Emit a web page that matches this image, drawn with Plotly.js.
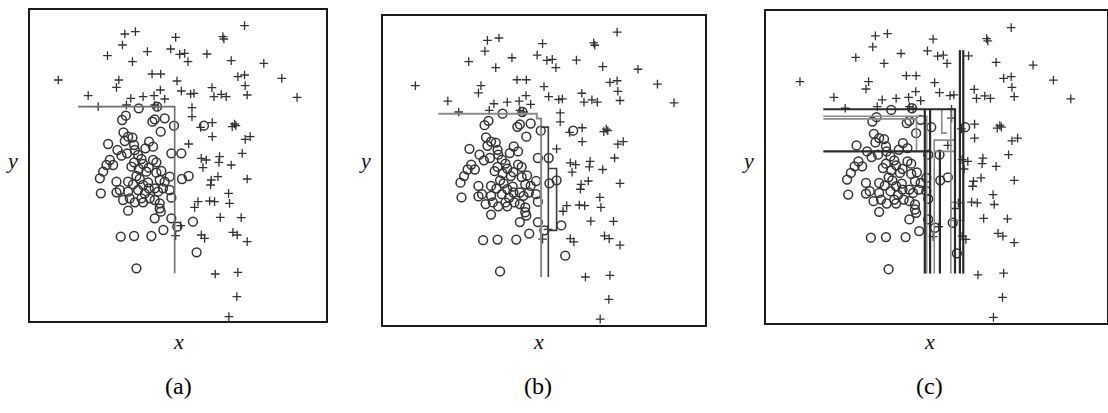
<!DOCTYPE html>
<html>
<head>
<meta charset="utf-8">
<script src="https://cdn.plot.ly/plotly-3.0.1.min.js"></script>
<style>
  html, body { margin: 0; padding: 0; background: #fff; }
  #chart { width: 1108px; height: 413px; }
</style>
</head>
<body>
<div id="chart"></div>
<script>
// Class "+" samples (x, y)
const crossX = [65.0, 29.0, 32.2, 44.3, 58.5, 58.8, 28.3, 23.8, 35.8, 42.8, 45.5, 47.0, 48.0, 53.7, 31.3,
  61.0, 70.8, 37.2, 39.8, 9.0, 27.2, 26.5, 44.7, 63.0, 65.0, 65.2, 65.8, 76.2, 80.8, 18.0,
  21.0, 30.8, 34.5, 37.8, 39.7, 41.0, 46.0, 48.8, 49.8, 55.2, 55.8, 58.0, 59.5, 29.5, 38.0,
  39.0, 49.2, 49.2, 55.3, 51.8, 61.3, 62.0, 62.4, 55.3, 65.2, 66.7, 48.2, 64.3, 52.0, 53.5,
  57.5, 57.3, 52.5, 61.0, 55.0, 57.0, 54.8, 65.8, 60.2, 51.0, 50.0, 54.5, 56.0, 60.5, 57.7,
  64.0, 45.8, 44.3, 52.0, 53.0, 61.5, 62.8, 65.8, 56.2, 63.0, 62.7, 60.3];
const crossY = [88.8, 86.3, 87.0, 85.3, 85.5, 84.8, 83.0, 79.8, 81.0, 81.8, 80.2, 80.5, 78.0, 80.3, 78.0,
  78.3, 77.5, 74.3, 74.3, 72.5, 72.5, 70.3, 72.2, 73.5, 74.0, 70.8, 68.0, 73.0, 67.3, 67.8,
  64.5, 67.0, 67.5, 67.8, 69.5, 66.8, 69.2, 68.3, 68.5, 70.2, 67.5, 68.2, 67.5, 65.0, 65.0,
  64.5, 64.2, 61.5, 59.7, 58.3, 58.5, 59.3, 58.8, 55.5, 54.7, 55.5, 53.3, 50.5, 49.0, 48.5,
  49.5, 47.8, 46.2, 47.0, 42.5, 43.5, 41.0, 42.8, 38.5, 36.0, 34.3, 36.2, 36.0, 35.5, 31.3,
  31.2, 28.8, 25.8, 26.0, 25.0, 26.8, 26.0, 24.0, 14.3, 14.8, 7.5, 1.5];

// Class "o" samples (x, y)
const circleX = [33.2, 38.7, 29.3, 28.2, 37.3, 38.0, 41.0, 43.8, 39.8, 52.8, 28.6, 30.0, 31.3, 24.0, 29.0,
  31.8, 36.3, 37.5, 35.2, 26.8, 28.0, 29.7, 33.0, 32.0, 43.0, 46.0, 34.0, 24.5, 23.5, 25.5,
  31.8, 34.5, 37.5, 38.5, 31.0, 36.2, 22.5, 33.2, 35.5, 38.5, 40.0, 42.5, 46.2, 48.2, 21.5,
  26.5, 30.0, 32.5, 33.5, 36.0, 39.5, 41.0, 31.5, 34.5, 40.5, 39.0, 36.2, 35.0, 33.0, 30.0,
  27.5, 26.5, 21.8, 42.5, 38.0, 28.5, 30.5, 32.0, 34.5, 36.5, 38.0, 43.0, 39.5, 34.0, 39.5,
  39.8, 30.0, 38.0, 43.0, 44.8, 49.5, 40.6, 37.0, 31.8, 27.8, 50.6, 32.5];
const circleY = [64.0, 64.5, 61.8, 60.5, 60.0, 60.7, 61.0, 58.8, 57.0, 58.8, 56.8, 55.5, 55.2, 53.3, 54.2,
  53.0, 54.0, 52.5, 52.0, 51.5, 49.8, 50.5, 50.0, 51.5, 50.5, 50.5, 48.8, 48.5, 47.0, 47.0,
  47.8, 47.3, 48.5, 47.8, 46.5, 46.2, 45.0, 45.8, 45.0, 44.7, 45.2, 43.5, 42.8, 43.7, 43.0,
  42.0, 42.0, 43.7, 42.8, 41.8, 42.5, 42.0, 41.2, 41.0, 40.0, 39.0, 40.0, 38.4, 39.5, 39.0,
  39.5, 38.8, 38.5, 39.5, 40.0, 36.5, 37.0, 35.8, 35.8, 37.0, 36.5, 37.2, 35.5, 37.0, 34.0,
  33.0, 33.3, 31.0, 31.0, 28.5, 30.0, 27.5, 25.7, 25.7, 25.5, 20.8, 16.0];

// Decision boundaries, one split (a)
const splitAX = [15.0, 44.0, 44.0];
const splitAY = [64.5, 64.5, 14.5];

// Decision boundaries, few splits (b)
const splitBLightX = [15.4, 42.7, 42.7, 43.9, 43.9];
const splitBLightY = [64.0, 64.0, 62.5, 62.5, 14.3];
const splitBDarkX = [43.9, 45.9, 45.9, null, 45.9, 48.2, 48.2, 45.9];
const splitBDarkY = [59.9, 59.9, 14.3, null, 47.3, 47.3, 28.5, 28.5];

// Decision boundaries, many splits (c)
const splitCDarkX = [15.2, 50.1, 50.1, null, 15.2, 43.5, null, 42.1, 42.1, null, 43.5, 43.5, null,
  46.1, 46.1, null, 51.4, 51.4, null, 52.3, 52.3];
const splitCDarkY = [64.2, 64.2, 14.7, null, 51.5, 51.5, null, 64.2, 14.7, null, 64.2, 14.7, null,
  51.5, 14.7, null, 82.0, 14.7, null, 82.0, 14.7];
const splitCLightX = [15.2, 42.6, 42.6, null, 15.2, 39.9, 39.9, null, 44.6, 44.6, null, 49.0, 49.0, null,
  44.6, 50.1, 50.1, 44.6, 44.6, null, 49.0, 52.4, 52.4, 49.0, 49.0, null, 46.6, 46.6, 48.0];
const splitCLightY = [62.1, 62.1, 14.7, null, 61.3, 61.3, 51.5, null, 51.5, 14.7, null, 64.2, 14.7, null,
  51.5, 51.5, 54.9, 54.9, 51.5, null, 36.2, 36.2, 30.7, 30.7, 36.2, null, 64.2, 57.0, 57.0];

const panelLabels = ['(a)', '(b)', '(c)'];

const W = 1108, H = 413;
// Panel frames in pixels: [left, right, top, bottom]
const frames = [[30, 326, 10, 321], [383, 705, 16, 325], [766, 1107, 11, 323]];
const xRanges = [[0.5, 89.5], [0, 89.4], [0, 90.4]];
const yRanges = [[0.2, 93.5], [-0.3, 93.7], [-0.2, 93.8]];
const labelX = [178, 538, 929];

const ink = '#333333';
const traces = [];
const axisIds = [['x', 'y'], ['x2', 'y2'], ['x3', 'y3']];

axisIds.forEach(([xa, ya]) => {
  traces.push({
    type: 'scatter', mode: 'markers', x: crossX, y: crossY, xaxis: xa, yaxis: ya,
    marker: { symbol: 'cross-thin', size: 6.2, color: ink, line: { color: ink, width: 1.3 } },
    hoverinfo: 'skip', showlegend: false
  });
  traces.push({
    type: 'scatter', mode: 'markers', x: circleX, y: circleY, xaxis: xa, yaxis: ya,
    marker: { symbol: 'circle-open', size: 8.8, color: ink, line: { color: ink, width: 1.5 } },
    hoverinfo: 'skip', showlegend: false
  });
});

function boundary(x, y, xa, ya, color, width) {
  traces.push({
    type: 'scatter', mode: 'lines', x: x, y: y, xaxis: xa, yaxis: ya,
    line: { color: color, width: width }, connectgaps: false,
    hoverinfo: 'skip', showlegend: false
  });
}
boundary(splitAX, splitAY, 'x', 'y', '#6e6e6e', 1.6);
boundary(splitBLightX, splitBLightY, 'x2', 'y2', '#8a8a8a', 2);
boundary(splitBDarkX, splitBDarkY, 'x2', 'y2', '#3c3c3c', 1.6);
boundary(splitCLightX, splitCLightY, 'x3', 'y3', '#8a8a8a', 1.6);
boundary(splitCDarkX, splitCDarkY, 'x3', 'y3', '#2a2a2a', 2.2);

const layout = {
  width: W, height: H,
  margin: { l: 0, r: 0, t: 0, b: 0, pad: 0 },
  paper_bgcolor: '#fff', plot_bgcolor: '#fff',
  showlegend: false,
  annotations: []
};

const serif = 'Liberation Serif';
frames.forEach((f, i) => {
  const s = i === 0 ? '' : String(i + 1);
  const axBase = {
    showgrid: false, zeroline: false, showticklabels: false, ticks: '',
    showline: true, mirror: true, linecolor: '#1a1a1a', linewidth: 1.6, fixedrange: true
  };
  layout['xaxis' + s] = Object.assign({}, axBase, {
    domain: [f[0] / W, f[1] / W], range: xRanges[i], anchor: 'y' + s
  });
  layout['yaxis' + s] = Object.assign({}, axBase, {
    domain: [1 - f[3] / H, 1 - f[2] / H], range: yRanges[i], anchor: 'x' + s
  });
  const cx = labelX[i] / W;
  const common = { xref: 'paper', yref: 'paper', showarrow: false, xanchor: 'center', yanchor: 'middle' };
  layout.annotations.push(Object.assign({}, common, {
    x: cx, y: 1 - 341 / H, text: '<i>x</i>',
    font: { family: serif, size: 22, color: '#111' }
  }));
  layout.annotations.push(Object.assign({}, common, {
    x: (f[0] - 18) / W, y: 1 - 160 / H, text: '<i>y</i>',
    font: { family: serif, size: 22, color: '#111' }
  }));
  layout.annotations.push(Object.assign({}, common, {
    x: cx, y: 1 - 386 / H, text: panelLabels[i],
    font: { family: serif, size: 24, color: '#000' }
  }));
});

Plotly.newPlot('chart', traces, layout, { staticPlot: true, displayModeBar: false });
</script>
</body>
</html>
